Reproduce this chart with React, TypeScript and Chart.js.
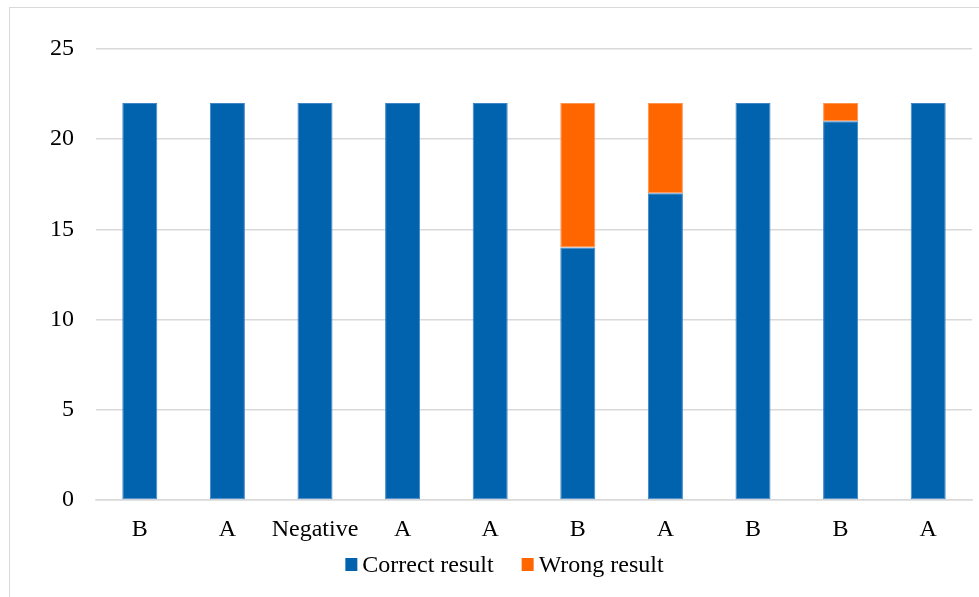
import React, { useEffect, useRef } from "react";
import { Chart, registerables } from "chart.js";

Chart.register(...registerables);

// Test samples and how many of the 22 runs gave the right answer
const categories = ["B", "A", "Negative", "A", "A", "B", "A", "B", "B", "A"];
const correctResults = [22, 22, 22, 22, 22, 14, 17, 22, 21, 22];
const wrongResults = [0, 0, 0, 0, 0, 8, 5, 0, 1, 0];
const seriesNames = ["Correct result", "Wrong result"];
const yTicks = [0, 5, 10, 15, 20, 25];

const BLUE = "#0163AE";
const ORANGE = "#FF6600";
const GRID = "#d9d9d9";
const FONT = "'Liberation Serif', 'Times New Roman', serif";
const FONT_SIZE = 24;

// Legend drawn as small square swatches with a short gap before the text
const bottomLegend = {
  id: "bottomLegend",
  afterDraw(chart: any) {
    const { ctx } = chart;
    const box = 12;
    const gap = 5;
    const between = 28;
    ctx.save();
    ctx.font = `${FONT_SIZE}px ${FONT}`;
    const items = chart.data.datasets.map((ds: any) => ({
      text: ds.label as string,
      color: ds.backgroundColor as string,
      w: ctx.measureText(ds.label).width,
    }));
    const total =
      items.reduce((s: number, it: any) => s + box + gap + it.w, 0) +
      between * (items.length - 1);
    const centerX = 504.5;
    const cy = 564.5;
    let x = centerX - total / 2;
    ctx.textBaseline = "middle";
    ctx.textAlign = "left";
    for (const it of items) {
      ctx.fillStyle = it.color;
      ctx.fillRect(x, cy - 6.5, box, 13);
      x += box + gap;
      ctx.fillStyle = "#000";
      ctx.fillText(it.text, x, cy + 1);
      x += it.w + between;
    }
    ctx.restore();
  },
};

export default function App() {
  const canvasRef = useRef<HTMLCanvasElement | null>(null);

  useEffect(() => {
    const canvas = canvasRef.current;
    if (!canvas) return;
    const chart = new Chart(canvas, {
      type: "bar",
      data: {
        labels: categories,
        datasets: [
          {
            label: seriesNames[0],
            data: correctResults,
            backgroundColor: BLUE,
            borderColor: "#3f86c8",
            borderWidth: (c: any) => (c.raw ? 1 : 0),
            borderSkipped: false,
            barPercentage: 0.4,
            categoryPercentage: 1.0,
          },
          {
            label: seriesNames[1],
            data: wrongResults,
            backgroundColor: ORANGE,
            borderColor: "#ff9450",
            borderWidth: (c: any) => (c.raw ? 1 : 0),
            borderSkipped: false,
            barPercentage: 0.4,
            categoryPercentage: 1.0,
          },
        ],
      },
      options: {
        responsive: false,
        animation: false,
        layout: { padding: { left: 0, top: 49, right: 7, bottom: 0 } },
        plugins: {
          legend: { display: false },
          tooltip: { enabled: false },
        },
        scales: {
          x: {
            stacked: true,
            grid: { display: false, drawTicks: false },
            border: { display: true, color: GRID, width: 1.5 },
            ticks: {
              color: "#000",
              font: { family: FONT, size: FONT_SIZE },
              padding: 15,
              maxRotation: 0,
              autoSkip: false,
            },
            afterFit: (scale: any) => {
              scale.height = 97;
            },
          },
          y: {
            stacked: true,
            min: 0,
            max: 25,
            afterBuildTicks: (scale: any) => {
              scale.ticks = yTicks.map((v) => ({ value: v }));
            },
            grid: { color: GRID, lineWidth: 1.5, drawTicks: false },
            border: { display: false },
            ticks: {
              color: "#000",
              font: { family: FONT, size: FONT_SIZE },
              padding: 22,
            },
            afterFit: (scale: any) => {
              scale.width = 96;
            },
          },
        },
      },
      plugins: [bottomLegend],
    });
    return () => chart.destroy();
  }, []);

  return (
    <div
      style={{
        position: "fixed",
        left: 0,
        top: 0,
        width: 979,
        height: 597,
        overflow: "hidden",
        background: "#fff",
      }}
    >
      <div
        style={{
          position: "absolute",
          left: 9,
          top: 7,
          width: 1000,
          height: 700,
          border: `1.5px solid ${GRID}`,
          boxSizing: "border-box",
        }}
      />
      <canvas
        ref={canvasRef}
        width={979}
        height={597}
        style={{ position: "absolute", left: 0, top: 0 }}
      />
    </div>
  );
}
